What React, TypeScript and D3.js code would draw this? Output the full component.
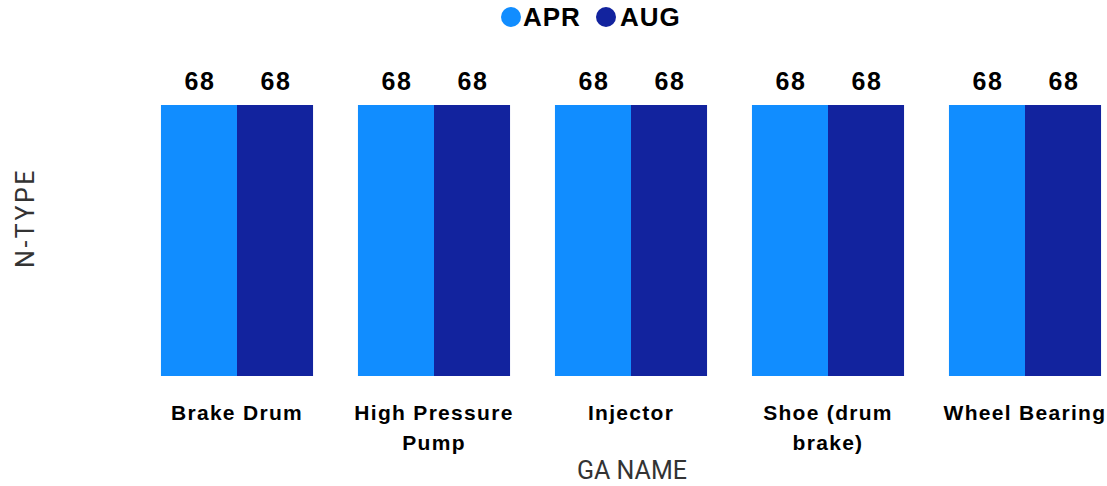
import React from "react";
import * as d3 from "d3";

const categories = ["Brake Drum", "High Pressure Pump", "Injector", "Shoe (drum brake)", "Wheel Bearing"];
const seriesNames = ["APR", "AUG"];
const aprValues = [68, 68, 68, 68, 68];
const augValues = [68, 68, 68, 68, 68];
const colors = ["#118DFF", "#12239E"];

const W = 1107;
const H = 486;

function measure(text: string, font: string): number {
  const c = document.createElement("canvas").getContext("2d")!;
  c.font = font;
  return c.measureText(text).width;
}

function wrap(text: string, font: string, maxW: number, spacing: number): string[] {
  const words = text.split(" ");
  const lines: string[] = [];
  let cur = "";
  for (const w of words) {
    const t = cur ? cur + " " + w : w;
    if (cur && measure(t, font) + spacing * t.length > maxW) {
      lines.push(cur);
      cur = w;
    } else cur = t;
  }
  if (cur) lines.push(cur);
  return lines;
}

export default function App() {
  const x0 = d3.scaleBand<string>().domain(categories).range([138.5, 1123.5]).paddingInner(0.228).paddingOuter(0.114);
  const x1 = d3.scaleBand<string>().domain(seriesNames).range([0, x0.bandwidth()]).padding(0);
  const y = d3.scaleLinear().domain([0, 68]).range([376, 105]);
  const values = [aprValues, augValues];
  const catFont = "bold 21px 'Liberation Sans', Arial, sans-serif";
  const ff = "'Liberation Sans', Arial, sans-serif";

  return (
    <svg width={W} height={H} style={{ position: "absolute", left: 0, top: 0, display: "block", background: "#fff" }}>
      {/* legend */}
      <g>
        <circle cx={511} cy={17} r={10} fill={colors[0]} />
        <text x={523} y={26} fontFamily={ff} fontWeight="bold" fontSize={26} letterSpacing={1} fill="#000">APR</text>
        <circle cx={606} cy={17} r={10} fill={colors[1]} />
        <text x={620} y={26} fontFamily={ff} fontWeight="bold" fontSize={26} letterSpacing={1} fill="#000">AUG</text>
      </g>
      {categories.map((c, i) => (
        <g key={c} transform={`translate(${x0(c)},0)`}>
          {seriesNames.map((s, j) => (
            <g key={s}>
              <rect x={x1(s)} y={y(values[j][i])} width={x1.bandwidth()} height={y(0) - y(values[j][i])} fill={colors[j]} />
              <text x={(x1(s) as number) + x1.bandwidth() / 2 + 1} y={y(values[j][i]) - 15} textAnchor="middle"
                fontFamily={ff} fontWeight="bold" fontSize={25} letterSpacing={1.5} fill="#000">{values[j][i]}</text>
            </g>
          ))}
        </g>
      ))}
      {categories.map((c) => {
        const lines = wrap(c, catFont, 190, 1.3);
        const cx = (x0(c) as number) + x0.bandwidth() / 2;
        return (
          <text key={c} x={cx} y={420} textAnchor="middle" fontFamily={ff}
            fontWeight="bold" fontSize={21} letterSpacing={1.3} fill="#000">
            {lines.map((l, k) => (
              <tspan key={k} x={cx} y={420 + k * 30}>{l}</tspan>
            ))}
          </text>
        );
      })}
      <text x={632} y={479} textAnchor="middle" fontFamily="Roboto, 'DejaVu Sans', sans-serif" fontSize={25} fill="#333">GA NAME</text>
      <text transform="translate(34,218) rotate(-90)" textAnchor="middle" fontFamily="Roboto, 'DejaVu Sans', sans-serif" fontSize={25} letterSpacing={2.5} fill="#333">N-TYPE</text>
    </svg>
  );
}
